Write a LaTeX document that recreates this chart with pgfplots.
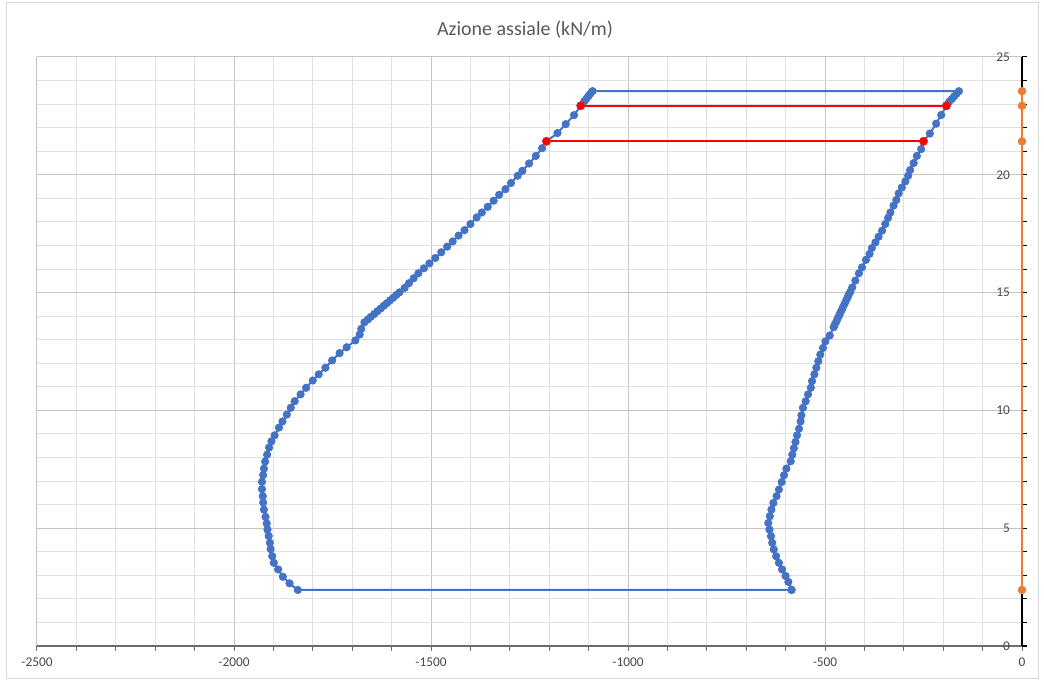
\documentclass[border=0pt]{standalone}
\usepackage{pgfplots}
\pgfplotsset{compat=1.18}
\usepackage{fontspec}
\setmainfont{Carlito}
\definecolor{xblue}{HTML}{4472C4}
\definecolor{xorange}{HTML}{ED7D31}
\definecolor{xred}{HTML}{FF0000}
\definecolor{txt}{HTML}{595959}
\definecolor{majgrid}{HTML}{C4C4C4}
\definecolor{mingrid}{HTML}{E0E0E0}
\definecolor{frame}{HTML}{D9D9D9}
\begin{document}
\begin{tikzpicture}[x=0.75pt,y=0.75pt]
\useasboundingbox (0,0) rectangle (1044,681);
\draw[color=frame, line width=0.75pt] (6,3) rectangle (1038,678);
\begin{axis}[
  at={(27.75pt,26.25pt)}, anchor=south west,
  scale only axis, width=738.75pt, height=441.75pt,
  xmin=-2500, xmax=0, ymin=0, ymax=25,
  axis x line*=bottom, axis y line*=right,
  x axis line style={color=gray!85!black, line width=1pt},
  y axis line style={color=black, line width=0.9pt},
  xtick={-2500,-2000,-1500,-1000,-500,0},
  xticklabels={-2500,-2000,-1500,-1000,-500,0},
  ytick={0,5,10,15,20,25},
  yticklabels={0,5,10,15,20,25},
  minor x tick num=4, minor y tick num=4,
  grid=both,
  major grid style={color=majgrid, line width=0.75pt},
  minor grid style={color=mingrid, line width=0.75pt},
  tick align=outside,
  major tick length=3.5pt, minor tick length=3.5pt,
  xtick style={color=gray!85!black, line width=0.75pt},
  ytick style={color=black, line width=0.75pt},
  ticklabel style={font=\fontsize{10}{11}\selectfont, text=txt!80!black},
  xticklabel style={yshift=-2pt},
  yticklabel style={anchor=east, xshift=-9pt},
  clip=false,
]
\addplot[color=xblue, line width=1.5pt, mark=*, mark size=2.8pt, mark options={fill=xblue, draw=xblue, line width=0.5pt}] coordinates {
(-585,2.38) (-593,2.72) (-600,2.97) (-609,3.25) (-617,3.53) (-624,3.81) (-630,4.10) (-634,4.38) (-637,4.66) (-641,4.94) (-644,5.22) (-640,5.51) (-636,5.79) (-631,6.07) (-623,6.36) (-617,6.64) (-610,6.96) (-604,7.25) (-598,7.53) (-587,7.84) (-583,8.12) (-579,8.39) (-575,8.66) (-571,8.94) (-566,9.22) (-562,9.53) (-560,9.79) (-556,10.11) (-549,10.39) (-543,10.68) (-536,10.96) (-533,11.24) (-527,11.53) (-522,11.81) (-517,12.09) (-512,12.37) (-505,12.65) (-499,12.93) (-488,13.18) (-478,13.53)
(-475,13.65) (-471,13.78) (-468,13.90) (-464,14.03) (-461,14.15) (-457,14.28) (-454,14.40) (-450,14.53) (-447,14.65) (-443,14.78) (-440,14.90) (-436,15.03)
(-431,15.22) (-423,15.51) (-414,15.82) (-406,16.07) (-396,16.39) (-387,16.64) (-381,16.89) (-372,17.13) (-364,17.37) (-355,17.63) (-347,17.91) (-340,18.17) (-334,18.40) (-326,18.69) (-319,18.93) (-313,19.21) (-305,19.46) (-296,19.72) (-289,19.96) (-284,20.20) (-275,20.50) (-267,20.80) (-256,21.09) (-250,21.42) (-234,21.75) (-218,22.17) (-205,22.54) (-192,22.92) (-185,23.10) (-178,23.22) (-172,23.33) (-166,23.45) (-160,23.55)
(-1090,23.55) (-1095,23.45) (-1100,23.35) (-1105,23.24) (-1111,23.12) (-1120,22.93) (-1137,22.53) (-1158,22.15) (-1179,21.77) (-1207,21.42) (-1218,21.13) (-1234,20.80) (-1251,20.48) (-1268,20.17) (-1280,19.96) (-1297,19.65) (-1311,19.39) (-1327,19.15) (-1341,18.90) (-1356,18.64) (-1371,18.40) (-1384,18.19) (-1400,17.91) (-1415,17.65) (-1430,17.42) (-1445,17.17) (-1459,16.95) (-1474,16.71) (-1489,16.47) (-1504,16.24) (-1518,16.03) (-1532,15.82) (-1544,15.61) (-1556,15.40) (-1567,15.20)
(-1580,15.01) (-1588,14.90) (-1596,14.78) (-1604,14.67) (-1612,14.55) (-1620,14.44) (-1628,14.32) (-1636,14.21) (-1644,14.09) (-1653,13.97) (-1660,13.86) (-1669,13.74)
(-1677,13.46) (-1681,13.22) (-1692,12.97) (-1714,12.68) (-1732,12.43) (-1751,12.12) (-1768,11.81) (-1785,11.53) (-1800,11.27) (-1817,10.96) (-1831,10.68) (-1846,10.39) (-1856,10.11) (-1866,9.82) (-1877,9.53) (-1886,9.27) (-1897,8.94) (-1905,8.69) (-1911,8.42) (-1916,8.12) (-1921,7.83) (-1924,7.53) (-1926,7.25) (-1929,6.97) (-1929,6.66) (-1927,6.36) (-1926,6.09) (-1924,5.79) (-1920,5.48) (-1917,5.20) (-1915,4.94) (-1912,4.67) (-1909,4.38) (-1907,4.11) (-1903,3.81) (-1899,3.53) (-1888,3.25) (-1876,2.94) (-1859,2.66) (-1838,2.38)
(-585,2.38)
};
\addplot[color=xred, line width=1.5pt, mark=*, mark size=3.1pt, mark options={fill=xred, draw=red!70!gray, line width=0.4pt}] coordinates {(-1207,21.42) (-250,21.42)};
\addplot[color=xred, line width=1.5pt, mark=*, mark size=3.1pt, mark options={fill=xred, draw=red!70!gray, line width=0.4pt}] coordinates {(-1120,22.93) (-192,22.93)};
\addplot[color=xorange, line width=1.5pt, mark=*, mark size=2.4pt, mark options={fill=xorange, draw=xorange}] coordinates {(0,2.38) (0,21.42) (0,22.93) (0,23.55)};
\end{axis}
\node[font=\fontsize{15}{17}\selectfont, text=txt] at (525,651) {Azione assiale (kN/m)};
\end{tikzpicture}
\end{document}
